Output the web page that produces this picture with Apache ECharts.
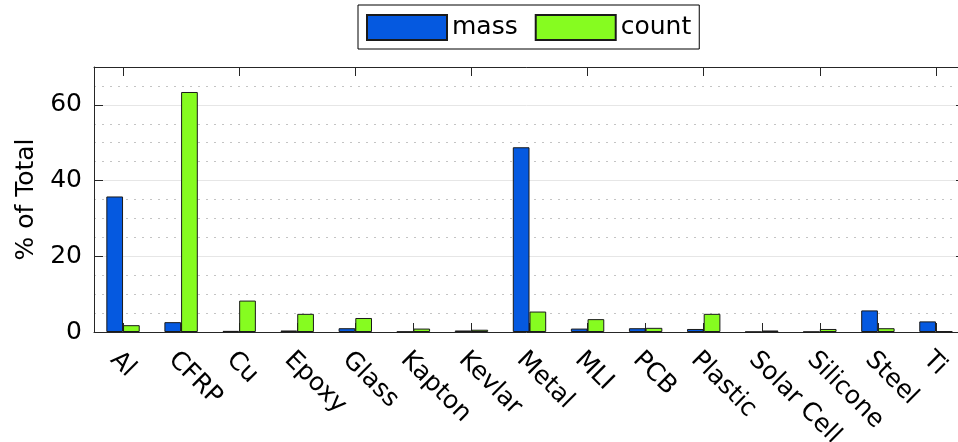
<!DOCTYPE html>
<html>
<head>
<meta charset="utf-8">
<script src="https://cdn.jsdelivr.net/npm/echarts@6/dist/echarts.min.js"></script>
<style>
  html, body { margin: 0; padding: 0; background: #ffffff; }
  #chart { width: 958px; height: 442px; }
</style>
</head>
<body>
<div id="chart"></div>
<script>
// Material breakdown: share of total mass and of total object count, in percent
const materials = ['Al', 'CFRP', 'Cu', 'Epoxy', 'Glass', 'Kapton', 'Kevlar', 'Metal', 'MLI', 'PCB', 'Plastic', 'Solar Cell', 'Silicone', 'Steel', 'Ti'];
const massPct  = [35.8, 2.6, 0.3, 0.4, 1.0, 0.1, 0.4, 48.8, 0.9, 1.0, 0.8, 0.05, 0.05, 5.7, 2.8];
const countPct = [1.8, 63.4, 8.3, 4.8, 3.7, 0.9, 0.6, 5.4, 3.4, 1.1, 4.8, 0.4, 0.8, 1.0, 0.2];
const yTickLabels = [0, 20, 40, 60];
const yMax = 70;

const FONT = 'DejaVu Sans';
const AXIS_COLOR = '#262626';

const chart = echarts.init(document.getElementById('chart'), null, { renderer: 'canvas' });

const boxAxisLine = { show: true, onZero: false, lineStyle: { color: AXIS_COLOR, width: 1 } };

chart.setOption({
  animation: false,
  backgroundColor: '#ffffff',
  textStyle: { fontFamily: FONT },
  legend: {
    left: 358,
    top: 5,
    orient: 'horizontal',
    icon: 'rect',
    itemWidth: 80,
    itemHeight: 25,
    itemGap: 17,
    padding: [9, 8, 8, 8],
    borderColor: '#000000',
    borderWidth: 1,
    backgroundColor: '#ffffff',
    selectedMode: false,
    textStyle: { fontFamily: FONT, fontSize: 25, color: '#000000' }
  },
  grid: {
    left: 94,
    top: 67,
    width: 871,
    height: 265,
    containLabel: false,
    outerBoundsMode: 'none'
  },
  xAxis: [
    {
      type: 'category',
      position: 'bottom',
      data: materials,
      axisLine: boxAxisLine,
      axisTick: { show: true, inside: true, length: 9, alignWithLabel: true, lineStyle: { color: AXIS_COLOR } },
      axisLabel: {
        interval: 0,
        rotate: -45,
        margin: 15,
        verticalAlign: 'top',
        fontFamily: FONT,
        fontSize: 25,
        color: '#000000'
      },
      splitLine: { show: false }
    },
    {
      type: 'category',
      position: 'top',
      data: materials,
      axisLine: boxAxisLine,
      axisTick: { show: true, inside: true, length: 9, alignWithLabel: true, lineStyle: { color: AXIS_COLOR } },
      axisLabel: { show: false },
      splitLine: { show: false }
    }
  ],
  yAxis: [
    {
      type: 'value',
      position: 'left',
      min: 0,
      max: yMax,
      interval: 20,
      name: '% of Total',
      nameLocation: 'middle',
      nameGap: 52,
      nameTextStyle: { fontFamily: FONT, fontSize: 25, color: '#000000' },
      axisLine: boxAxisLine,
      axisTick: { show: true, inside: true, length: 9, lineStyle: { color: AXIS_COLOR } },
      axisLabel: {
        margin: 12,
        fontFamily: FONT,
        fontSize: 25,
        color: '#000000',
        formatter: v => (yTickLabels.indexOf(v) >= 0 ? String(v) : '')
      },
      splitLine: { show: true, lineStyle: { color: '#e6e6e6', width: 1 } }
    },
    {
      type: 'value',
      position: 'right',
      min: 0,
      max: yMax,
      interval: 20,
      axisLine: boxAxisLine,
      axisTick: { show: true, inside: true, length: 9, lineStyle: { color: AXIS_COLOR } },
      axisLabel: { show: false },
      splitLine: { show: false }
    },
    {
      // minor grid: dotted lines every 5 %, skipping the major ones
      type: 'value',
      position: 'right',
      min: 0,
      max: yMax,
      interval: 5,
      axisLine: { show: false },
      axisTick: { show: false },
      axisLabel: { show: false },
      splitLine: {
        show: true,
        lineStyle: {
          color: ['rgba(0,0,0,0)', '#c4c4c4', '#c4c4c4', '#c4c4c4'],
          width: 1,
          type: [2, 6]
        }
      }
    }
  ],
  series: [
    {
      name: 'mass',
      type: 'bar',
      xAxisIndex: 0,
      yAxisIndex: 0,
      data: massPct,
      barWidth: 16.7,
      barGap: '0%',
      itemStyle: { color: '#0559e0', borderColor: '#1a1a1a', borderWidth: 1 }
    },
    {
      name: 'count',
      type: 'bar',
      xAxisIndex: 0,
      yAxisIndex: 0,
      data: countPct,
      barWidth: 16.7,
      barGap: '0%',
      itemStyle: { color: '#86fc20', borderColor: '#1a1a1a', borderWidth: 1 }
    }
  ]
});
</script>
</body>
</html>
